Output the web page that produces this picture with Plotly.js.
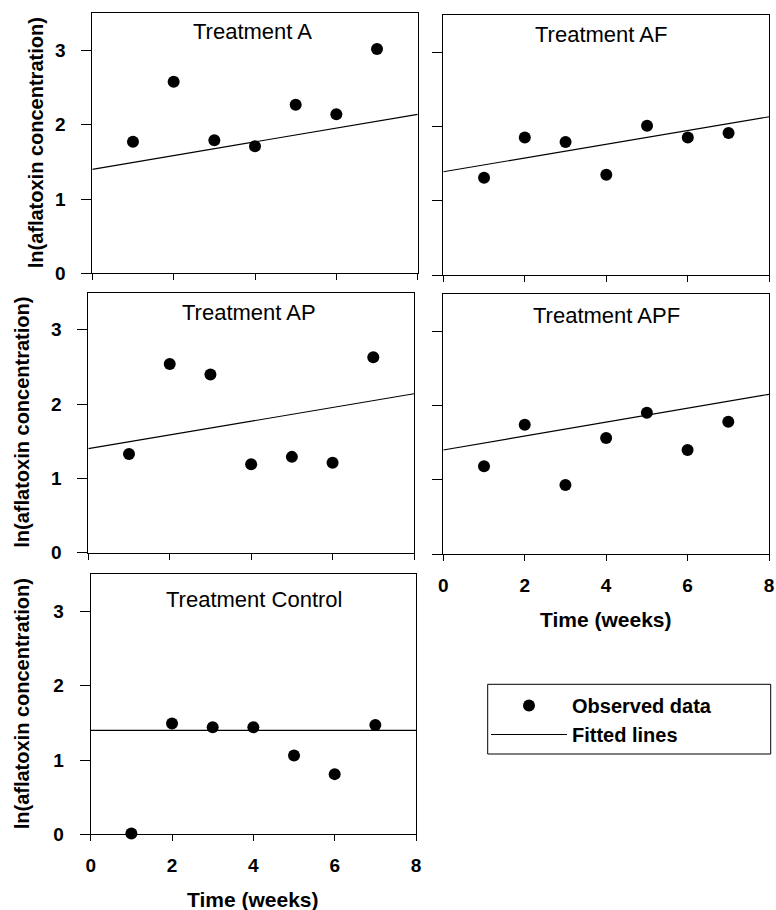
<!DOCTYPE html>
<html>
<head>
<meta charset="utf-8">
<script src="https://cdn.plot.ly/plotly-3.0.1.min.js"></script>
<style>
  html, body { margin: 0; padding: 0; background: #ffffff; }
  #chart { width: 776px; height: 910px; }
</style>
</head>
<body>
<div id="chart"></div>
<script>
// ---- data ----
var weeks = [1, 2, 3, 4, 5, 6, 7];
var fitWeeks = [0, 8];

var treatmentNames = ["Treatment A", "Treatment AF", "Treatment AP", "Treatment APF", "Treatment Control"];

var obsA       = [1.77, 2.58, 1.79, 1.71, 2.27, 2.14, 3.02];
var obsAF      = [1.31, 1.85, 1.79, 1.35, 2.01, 1.85, 1.91];
var obsAP      = [1.33, 2.54, 2.40, 1.19, 1.29, 1.21, 2.63];
var obsAPF     = [1.18, 1.74, 0.93, 1.56, 1.90, 1.40, 1.78];
var obsControl = [0.01, 1.49, 1.44, 1.44, 1.06, 0.81, 1.47];

var fitA       = [1.40, 2.14];
var fitAF      = [1.39, 2.13];
var fitAP      = [1.40, 2.14];
var fitAPF     = [1.40, 2.15];
var fitControl = [1.40, 1.40];

var xTicks = [0, 2, 4, 6, 8];
var yTicks = [0, 1, 2, 3];

var yTitle = "ln(aflatoxin concentration)";
var xTitle = "Time (weeks)";
var legendNames = ["Observed data", "Fitted lines"];

// ---- layout helpers ----
var W = 776, H = 910;
function fx(px) { return px / W; }
function fy(py) { return 1 - py / H; }

var FONT = "Arial, 'Liberation Sans', sans-serif";

var panels = [
  {obs: obsA,       fit: fitA,       x0: 92.3,  x1: 417.7, y0: 13.3,  y1: 273.3, showX: false, showY: true},
  {obs: obsAF,      fit: fitAF,      x0: 443.3, x1: 769.3, y0: 15.0,  y1: 275.0, showX: false, showY: false},
  {obs: obsAP,      fit: fitAP,      x0: 88.3,  x1: 414.0, y0: 292.7, y1: 552.7, showX: false, showY: true},
  {obs: obsAPF,     fit: fitAPF,     x0: 443.3, x1: 769.0, y0: 294.0, y1: 554.0, showX: true,  showY: false},
  {obs: obsControl, fit: fitControl, x0: 90.7,  x1: 416.0, y0: 574.3, y1: 834.3, showX: true,  showY: true}
];

function tickFont() { return {family: FONT, size: 19, color: "#000000", weight: 700}; }
function boldLabels(arr) { return arr.map(function (v) { return "<b>" + v + "</b>"; }); }

var data = [];
var layout = {
  width: W, height: H,
  margin: {l: 0, r: 0, t: 0, b: 0, pad: 0},
  paper_bgcolor: "#ffffff",
  plot_bgcolor: "#ffffff",
  font: {family: FONT, color: "#000", size: 19},
  showlegend: true,
  legend: {
    x: fx(486), y: fy(686), xanchor: "left", yanchor: "top",
    bgcolor: "rgba(0,0,0,0)", borderwidth: 0,
    itemwidth: 76,
    font: {family: FONT, size: 20, color: "#000", weight: 700},
    tracegroupgap: 0
  },
  annotations: [],
  shapes: [{
    type: "rect", xref: "paper", yref: "paper",
    x0: fx(487.7), x1: fx(770.7), y0: fy(754), y1: fy(684.3),
    line: {color: "#000", width: 1}, fillcolor: "rgba(0,0,0,0)"
  }]
};

var titleCenters = [[252.5, 32], [601, 35], [249, 312.5], [606, 315], [254, 599.5]];
var yTitleX = [36, null, 22, null, 22];

panels.forEach(function (p, i) {
  var n = i + 1;
  var xa = "x" + (n === 1 ? "" : n), ya = "y" + (n === 1 ? "" : n);
  var xk = "xaxis" + (n === 1 ? "" : n), yk = "yaxis" + (n === 1 ? "" : n);

  data.push({
    type: "scatter", mode: "lines", x: fitWeeks, y: p.fit,
    xaxis: xa, yaxis: ya,
    line: {color: "#000", width: 1.2},
    name: legendNames[1], legendgroup: "fit", showlegend: i === 0,
    legendrank: 2, cliponaxis: false, hoverinfo: "skip"
  });
  data.push({
    type: "scatter", mode: "markers", x: weeks, y: p.obs,
    xaxis: xa, yaxis: ya,
    marker: {color: "#000", size: 12, symbol: "circle"},
    name: legendNames[0], legendgroup: "obs", showlegend: i === 0,
    legendrank: 1, cliponaxis: false
  });

  layout[xk] = {
    domain: [fx(p.x0), fx(p.x1)], anchor: ya,
    range: [0, 8], tickmode: "array", tickvals: xTicks, ticktext: boldLabels(xTicks),
    showticklabels: p.showX, ticks: "outside", ticklen: 6, tickwidth: 1, tickcolor: "#000",
    ticklabelstandoff: 8,
    showline: true, linecolor: "#000", linewidth: 1, mirror: true,
    showgrid: false, zeroline: false, tickfont: tickFont(), fixedrange: true
  };
  layout[yk] = {
    domain: [fy(p.y1), fy(p.y0)], anchor: xa,
    range: [0, 3.5], tickmode: "array", tickvals: yTicks, ticktext: boldLabels(yTicks),
    showticklabels: p.showY, ticks: "outside", ticklen: 10, tickwidth: 1, tickcolor: "#000",
    ticklabelstandoff: 12,
    showline: true, linecolor: "#000", linewidth: 1, mirror: true,
    showgrid: false, zeroline: false, tickfont: tickFont(), fixedrange: true
  };

  layout.annotations.push({
    xref: "paper", yref: "paper", x: fx(titleCenters[i][0]), y: fy(titleCenters[i][1]),
    xanchor: "center", yanchor: "middle", showarrow: false,
    text: treatmentNames[i],
    font: {family: FONT, size: 22, color: "#000"}
  });

  if (yTitleX[i] !== null) {
    layout.annotations.push({
      xref: "paper", yref: "paper", x: fx(yTitleX[i]), y: fy((p.y0 + p.y1) / 2),
      xanchor: "center", yanchor: "middle", showarrow: false, textangle: -90,
      text: "<b>" + yTitle + "</b>",
      font: {family: FONT, size: 20, color: "#000"}
    });
  }
  if (p.showX) {
    layout.annotations.push({
      xref: "paper", yref: "paper", x: fx((p.x0 + p.x1) / 2), y: fy(p.y1 + 65),
      xanchor: "center", yanchor: "middle", showarrow: false,
      text: "<b>" + xTitle + "</b>",
      font: {family: FONT, size: 21, color: "#000"}
    });
  }
});

Plotly.newPlot("chart", data, layout, {displayModeBar: false, staticPlot: true});
</script>
</body>
</html>
